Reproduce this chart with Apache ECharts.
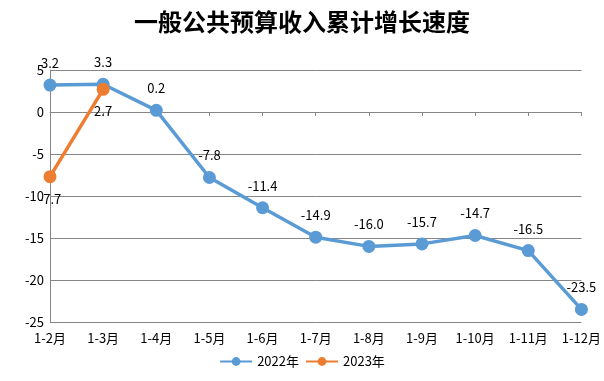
<!DOCTYPE html>
<html><head><meta charset="utf-8">
<script src="https://cdn.jsdelivr.net/npm/echarts@6/dist/echarts.min.js"></script>
<style>html,body{margin:0;padding:0;background:#fff}#c{width:604px;height:381px}</style>
</head><body><div id="c"></div>
<script>
const categories = ['1-2月','1-3月','1-4月','1-5月','1-6月','1-7月','1-8月','1-9月','1-10月','1-11月','1-12月'];
const values2022 = [3.2, 3.3, 0.2, -7.8, -11.4, -14.9, -16.0, -15.7, -14.7, -16.5, -23.5];
const values2023 = [-7.7, 2.7];
const font = '"Microsoft YaHei","Noto Sans CJK SC",sans-serif';
const chart = echarts.init(document.getElementById('c'));
chart.setOption({
  animation: false,
  title: {text: '一般公共预算收入累计增长速度', left: 'center', top: 5,
    textStyle: {fontFamily: font, fontSize: 24, fontWeight: 'bold', color: '#000'}},
  grid: {left: 50, right: 22, top: 70, bottom: 59},
  legend: {bottom: 8, itemGap: 6, itemWidth: 32, itemHeight: 11,
    textStyle: {fontFamily: font, fontSize: 13, color: '#000'},
    data: ['2022年','2023年']},
  xAxis: {type: 'category', data: categories, boundaryGap: false,
    axisLine: {lineStyle: {color: '#868686'}},
    axisTick: {show: true, alignWithLabel: true, length: 4, lineStyle: {color: '#868686'}},
    axisLabel: {fontFamily: font, fontSize: 13, color: '#000', margin: 10}},
  yAxis: {type: 'value', min: -25, max: 5, interval: 5,
    axisLine: {show: true, lineStyle: {color: '#868686'}},
    axisTick: {show: false},
    splitLine: {lineStyle: {color: '#868686'}},
    axisLabel: {fontFamily: font, fontSize: 13, color: '#000', margin: 6}},
  series: [
    {name: '2022年', type: 'line', data: values2022, symbol: 'circle', symbolSize: 13,
      itemStyle: {color: '#5B9BD5'}, lineStyle: {width: 3.5, color: '#5B9BD5'},
      label: {show: true, position: 'top', distance: 9, fontFamily: font, fontSize: 13, color: '#000',
        formatter: p => p.value.toFixed(1)}},
    {name: '2023年', type: 'line', data: values2023, symbol: 'circle', symbolSize: 13,
      itemStyle: {color: '#ED7D31'}, lineStyle: {width: 3.5, color: '#ED7D31'},
      label: {show: true, position: 'bottom', distance: 9, fontFamily: font, fontSize: 13, color: '#000',
        formatter: p => p.value.toFixed(1)}}
  ]
});
</script></body></html>
